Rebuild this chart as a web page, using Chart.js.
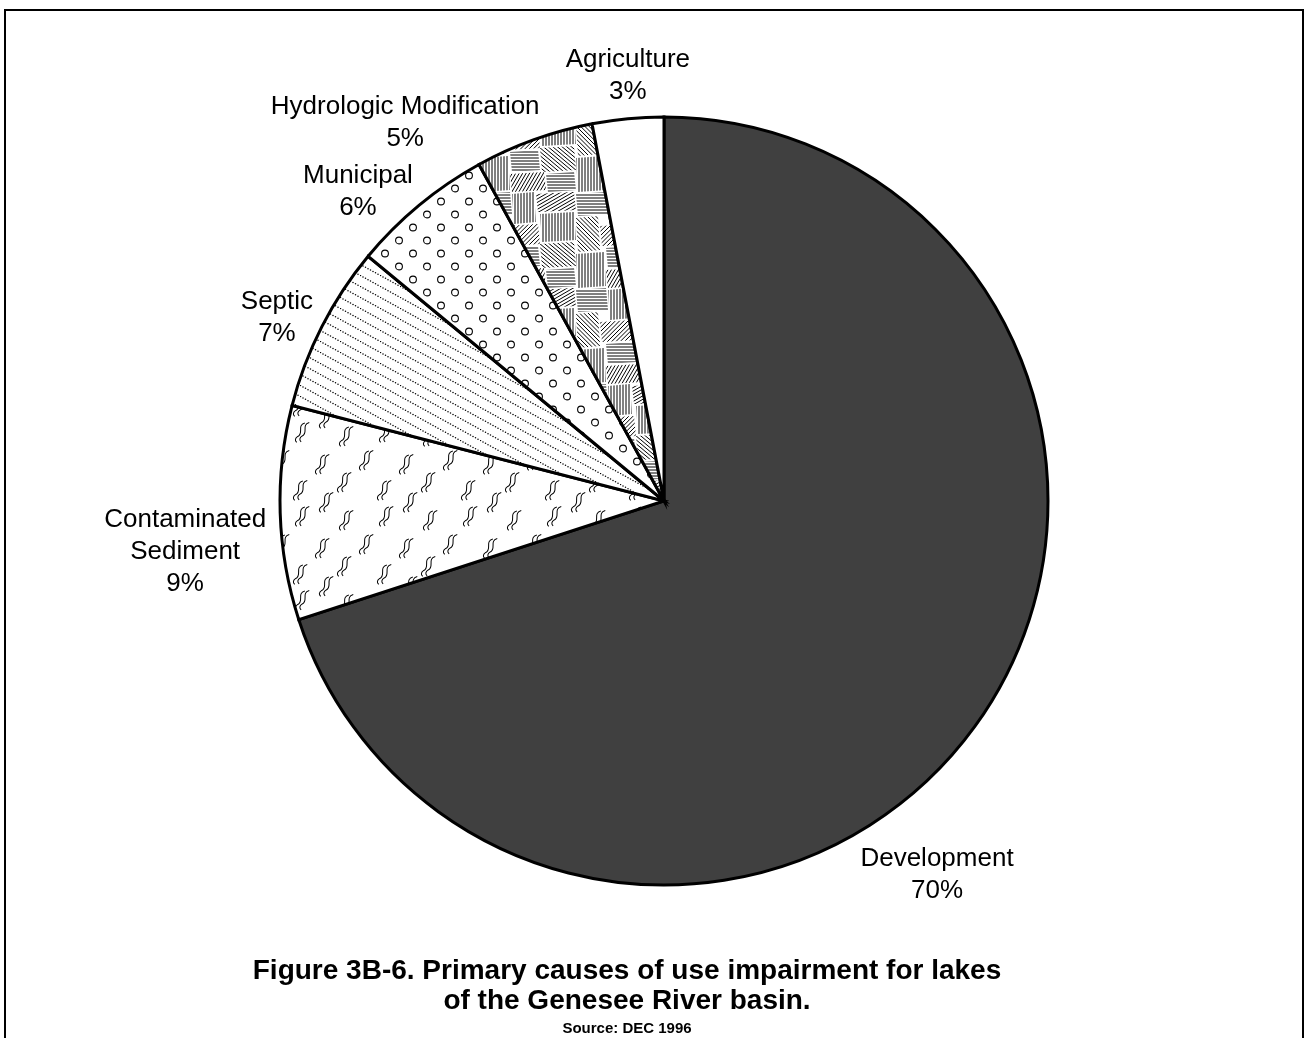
<!DOCTYPE html>
<html>
<head>
<meta charset="utf-8">
<script src="https://cdn.jsdelivr.net/npm/chart.js@4/dist/chart.umd.min.js"></script>
<style>
  html, body { margin: 0; padding: 0; background: #ffffff; }
  #wrap { width: 1308px; height: 1038px; position: relative; }
</style>
</head>
<body>
<div id="wrap"><canvas id="c"></canvas></div>
<script>
// ---- data ----
const categories = ["Development", "Contaminated Sediment", "Septic", "Municipal", "Hydrologic Modification", "Agriculture"];
const percentValues = [70, 9, 7, 6, 5, 3];
const labelLines = [
  ["Development", "70%"],
  ["Contaminated", "Sediment", "9%"],
  ["Septic", "7%"],
  ["Municipal", "6%"],
  ["Hydrologic Modification", "5%"],
  ["Agriculture", "3%"]
];
const titleLines = ["Figure 3B-6. Primary causes of use impairment for lakes", "of the Genesee River basin."];
const sourceLine = "Source: DEC 1996";

// ---- style: label anchors as fractions of the pie radius, relative to pie centre ----
const labelAnchors = [
  [0.711, 0.951],
  [-1.247, 0.068],
  [-1.008, -0.500],
  [-0.797, -0.828],
  [-0.674, -1.008],
  [-0.094, -1.130]
];

// ---- patterns ----
function makeTile(w, h, draw) {
  const c = document.createElement('canvas');
  c.width = w; c.height = h;
  const g = c.getContext('2d');
  g.fillStyle = '#ffffff';
  g.fillRect(0, 0, w, h);
  draw(g, w, h);
  return g.createPattern(c, 'repeat');
}

const circlesPattern = makeTile(28, 26, (g) => {
  g.strokeStyle = '#000'; g.lineWidth = 1.1;
  [[7, 6.5], [21, 19.5]].forEach(([x, y]) => {
    g.beginPath(); g.arc(x, y, 3.4, 0, Math.PI * 2); g.stroke();
  });
});

const dottedPattern = makeTile(20, 11, (g) => {
  g.fillStyle = '#000';
  for (let x = 0; x < 20; x += 2.5) {
    g.beginPath();
    g.arc(x + 0.5, x * 11 / 20 + 0.5, 0.75, 0, Math.PI * 2);
    g.fill();
  }
});

// mosaic of parallel-line bundles: each cell of a grid is filled with lines at its own angle
const hatchPattern = makeTile(96, 96, (g, w, h) => {
  g.strokeStyle = '#000'; g.lineWidth = 1;
  const cells = [
    // x, y, w, h, angle
    [0, 0, 32, 24, 0], [32, 0, 24, 32, 90], [56, 0, 40, 20, 150],
    [0, 24, 24, 36, 45], [24, 32, 36, 22, 135], [60, 20, 36, 30, 90],
    [0, 60, 30, 36, 90], [30, 54, 30, 22, 0], [60, 50, 36, 26, 40],
    [30, 76, 36, 20, 120], [66, 76, 30, 20, 0]
  ];
  cells.forEach(([x, y, cw, ch, ang]) => {
    g.save();
    g.beginPath();
    // slightly skewed polygon for a less regular mosaic
    g.moveTo(x, y + 2); g.lineTo(x + cw - 2, y); g.lineTo(x + cw, y + ch - 2); g.lineTo(x + 2, y + ch);
    g.closePath();
    g.clip();
    const a = ang * Math.PI / 180;
    const dx = Math.cos(a), dy = Math.sin(a);
    const px = -dy, py = dx;
    const cx = x + cw / 2, cy = y + ch / 2;
    for (let k = -20; k <= 20; k++) {
      const sx = cx + px * k * 3, sy = cy + py * k * 3;
      g.beginPath();
      g.moveTo(sx - dx * 60, sy - dy * 60);
      g.lineTo(sx + dx * 60, sy + dy * 60);
      g.stroke();
    }
    g.restore();
  });
});

const squigglePattern = makeTile(84, 84, (g, w, h) => {
  g.strokeStyle = '#000'; g.lineWidth = 1;
  const spots = [[10, 6], [50, 2], [30, 30], [70, 34], [8, 52], [48, 60], [74, 72]];
  function sq(x, y) {
    g.save();
    g.translate(x, y);
    g.rotate(0.35);
    for (let k = 0; k < 2; k++) {
      const bx = k * 4, by = -k * 2;
      g.beginPath();
      g.moveTo(bx + 3, by);
      g.bezierCurveTo(bx - 4, by + 5, bx + 6, by + 10, bx + 1, by + 15);
      g.quadraticCurveTo(bx - 2, by + 19, bx + 2, by + 21);
      g.stroke();
    }
    g.restore();
  }
  spots.forEach(([x, y]) => {
    for (let ox = -w; ox <= w; ox += w)
      for (let oy = -h; oy <= h; oy += h) sq(x + ox, y + oy);
  });
});

const fills = ['#404040', squigglePattern, dottedPattern, circlesPattern, hatchPattern, '#ffffff'];

const FONT = '"Liberation Sans", Arial, Helvetica, sans-serif';

const decorPlugin = {
  id: 'decor',
  beforeDraw(chart) {
    const ctx = chart.ctx;
    ctx.save();
    ctx.strokeStyle = '#000';
    ctx.lineWidth = 2;
    ctx.beginPath();
    ctx.moveTo(5, 1040);
    ctx.lineTo(5, 10);
    ctx.lineTo(1303, 10);
    ctx.lineTo(1303, 1040);
    ctx.stroke();
    ctx.restore();
  },
  afterDatasetsDraw(chart) {
    const ctx = chart.ctx;
    const meta = chart.getDatasetMeta(0);
    ctx.save();
    ctx.fillStyle = '#000';
    ctx.textAlign = 'center';
    ctx.textBaseline = 'alphabetic';
    ctx.font = '26px ' + FONT;
    meta.data.forEach((arc, i) => {
      const r = arc.outerRadius;
      const x = arc.x + labelAnchors[i][0] * r;
      const y = arc.y + labelAnchors[i][1] * r;
      labelLines[i].forEach((t, j) => ctx.fillText(t, x, y + j * 32));
    });
    ctx.font = 'bold 28px ' + FONT;
    ctx.fillText(titleLines[0], 627, 979);
    ctx.fillText(titleLines[1], 627, 1009);
    ctx.font = 'bold 15px ' + FONT;
    ctx.fillText(sourceLine, 627, 1033);
    ctx.restore();
  }
};

new Chart(document.getElementById('c'), {
  type: 'pie',
  data: {
    labels: categories,
    datasets: [{
      data: percentValues,
      backgroundColor: fills,
      borderColor: '#000000',
      borderWidth: 3,
      borderJoinStyle: 'miter'
    }]
  },
  options: {
    responsive: true,
    maintainAspectRatio: false,
    animation: false,
    radius: 384,
    layout: { padding: { left: 20, right: 0, top: 0, bottom: 36 } },
    plugins: {
      legend: { display: false },
      tooltip: { enabled: false },
      title: { display: false }
    },
    events: []
  },
  plugins: [decorPlugin]
});
</script>
</body>
</html>
